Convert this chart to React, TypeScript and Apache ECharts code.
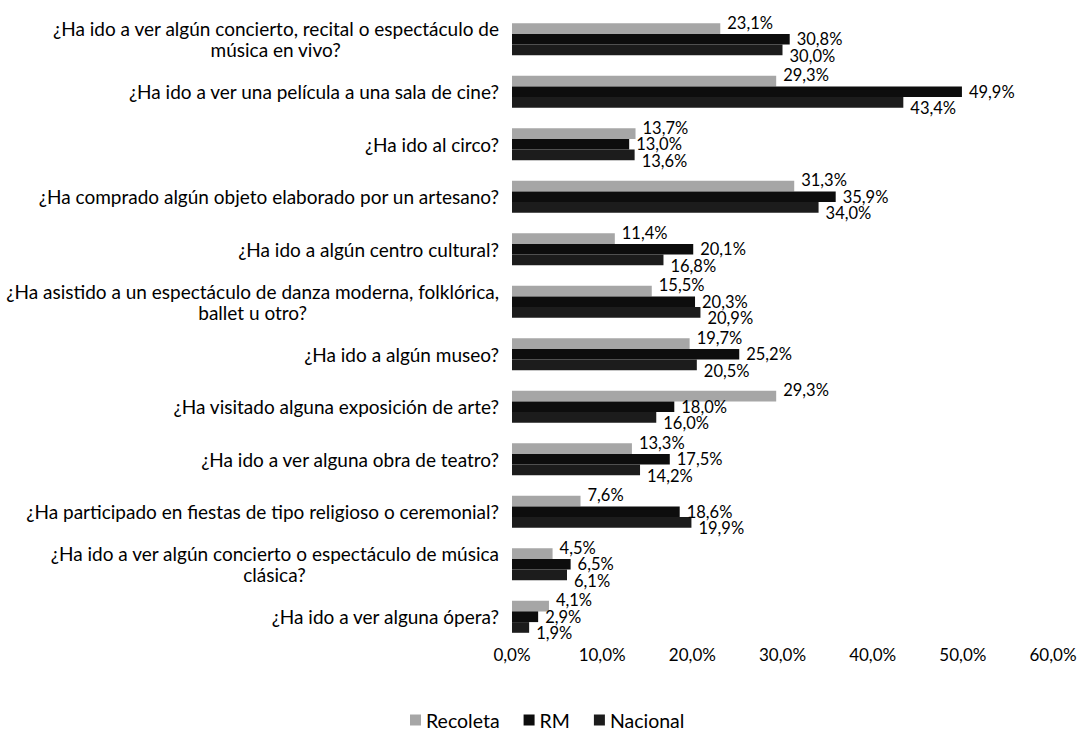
import React, { useEffect, useRef } from "react";
import * as echarts from "echarts";

const categories = [
  "¿Ha ido a ver algún concierto, recital o espectáculo de\nmúsica en vivo?",
  "¿Ha ido a ver una película a una sala de cine?",
  "¿Ha ido al circo?",
  "¿Ha comprado algún objeto elaborado por un artesano?",
  "¿Ha ido a algún centro cultural?",
  "¿Ha asistido a un espectáculo de danza moderna, folklórica,\nballet u otro?",
  "¿Ha ido a algún museo?",
  "¿Ha visitado alguna exposición de arte?",
  "¿Ha ido a ver alguna obra de teatro?",
  "¿Ha participado en fiestas de tipo religioso o ceremonial?",
  "¿Ha ido a ver algún concierto o espectáculo de música\nclásica?",
  "¿Ha ido a ver alguna ópera?",
];

const recoleta = [23.1, 29.3, 13.7, 31.3, 11.4, 15.5, 19.7, 29.3, 13.3, 7.6, 4.5, 4.1];
const rm = [30.8, 49.9, 13.0, 35.9, 20.1, 20.3, 25.2, 18.0, 17.5, 18.6, 6.5, 2.9];
const nacional = [30.0, 43.4, 13.6, 34.0, 16.8, 20.9, 20.5, 16.0, 14.2, 19.9, 6.1, 1.9];

const seriesNames = ["Recoleta", "RM", "Nacional"];
const xTicks = [0, 10, 20, 30, 40, 50, 60];

const FONT = "Lato";
const fmt = (v: number) => v.toFixed(1).replace(".", ",") + "%";

export default function App() {
  const ref = useRef<HTMLDivElement>(null);
  useEffect(() => {
    if (!ref.current) return;
    const chart = echarts.init(ref.current, undefined, { renderer: "svg" });
    const mkSeries = (name: string, data: number[], color: string, dy: number) => ({
      name,
      type: "bar",
      data,
      barWidth: 10.7,
      barGap: "0%",
      itemStyle: { color },
      label: {
        show: true,
        position: "right",
        distance: 7,
        offset: [0, dy],
        formatter: (p: any) => fmt(p.value),
        color: "#000",
        fontFamily: FONT,
        fontSize: 16.5,
      },
    });
    chart.setOption({
      animation: false,
      backgroundColor: "#fff",
      grid: { left: 512, right: 33, top: 13, bottom: 99, containLabel: false },
      xAxis: {
        type: "value",
        min: xTicks[0],
        max: xTicks[xTicks.length - 1],
        interval: 10,
        axisLine: { show: false },
        axisTick: { show: false },
        splitLine: { show: false },
        axisLabel: {
          formatter: (v: number) => fmt(v),
          color: "#000",
          fontFamily: FONT,
          fontSize: 17,
          margin: 3,
        },
      },
      yAxis: {
        type: "category",
        data: categories,
        inverse: true,
        axisLine: { show: false },
        axisTick: { show: false },
        axisLabel: {
          interval: 0,
          margin: 13,
          color: "#000",
          fontFamily: FONT,
          fontSize: 19,
          lineHeight: 21,
          formatter: (v: string) => {
            const parts = v.split("\n");
            if (parts.length === 1) return v;
            return parts[0] + "\n{c|" + parts[1] + "}";
          },
          rich: {
            c: {
              align: "center",
              color: "#000",
              fontFamily: FONT,
              fontSize: 19,
              lineHeight: 21,
            },
          },
        },
      },
      legend: {
        data: seriesNames,
        bottom: 7,
        left: 405,
        icon: "rect",
        itemWidth: 11,
        itemHeight: 11,
        itemGap: 24,
        textStyle: { color: "#000", fontFamily: FONT, fontSize: 19.5 },
      },
      series: [
        mkSeries(seriesNames[0], recoleta, "#a6a6a6", -6),
        mkSeries(seriesNames[1], rm, "#0d0d0d", 0),
        mkSeries(seriesNames[2], nacional, "#1c1c1c", 6),
      ],
    });
    return () => chart.dispose();
  }, []);
  return (
    <div
      ref={ref}
      style={{ position: "fixed", left: 0, top: 0, width: 1086, height: 742, background: "#fff" }}
    />
  );
}
